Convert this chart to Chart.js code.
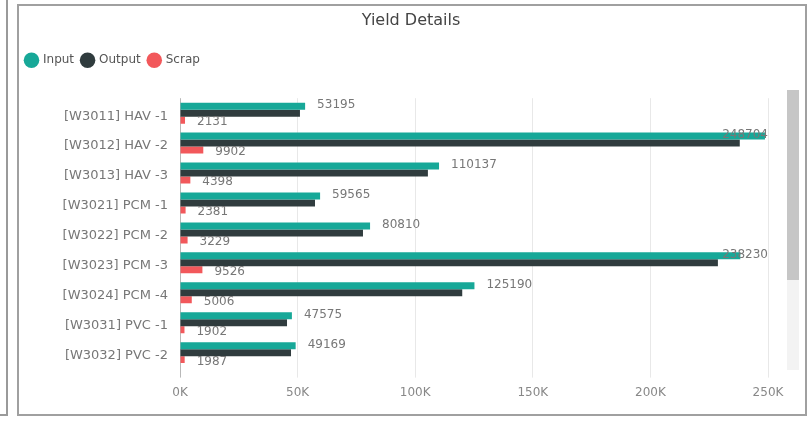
<!doctype html>
<html lang="en">
<head>
  <meta charset="UTF-8">
  <title>Yield Details</title>
  <script src="https://cdn.jsdelivr.net/npm/chart.js"></script>
  <style>
    body {
      margin: 0;
      background: #fff;
      width: 812px;
      height: 424px;
      position: relative;
      overflow: hidden;
    }

    #left_panel {
      position: absolute;
      left: 0;
      top: -4px;
      width: 6px;
      height: 418px;
      border-right: 2px solid #9a9a9a;
      border-bottom: 2px solid #9a9a9a;
    }

    #frame {
      position: absolute;
      left: 17px;
      top: 4px;
      width: 786px;
      height: 408px;
      border: 2px solid #a0a0a0;
      z-index: 2;
      pointer-events: none;
    }

    #chart_01 {
      position: absolute;
      left: 18px;
      top: 5px;
    }

    #track {
      position: absolute;
      left: 787px;
      top: 90px;
      width: 12px;
      height: 280px;
      background: #f3f3f3;
    }

    #thumb {
      position: absolute;
      left: 787px;
      top: 90px;
      width: 12px;
      height: 190px;
      background: #c6c6c6;
    }
  </style>
</head>
<body>
  <div id="left_panel"></div>
  <canvas id="chart_01" width="786" height="413"></canvas>
  <div id="track"></div>
  <div id="thumb"></div>
  <div id="frame"></div>
  <script type="application/javascript">
    const categories = [
      '[W3011] HAV -1', '[W3012] HAV -2', '[W3013] HAV -3',
      '[W3021] PCM -1', '[W3022] PCM -2', '[W3023] PCM -3',
      '[W3024] PCM -4', '[W3031] PVC -1', '[W3032] PVC -2'
    ]
    const input_vals = [53195, 248704, 110137, 59565, 80810, 238230, 125190, 47575, 49169]
    const output_vals = [51000, 238000, 105400, 57400, 77800, 228700, 120000, 45500, 47200]
    const scrap_vals = [2131, 9902, 4398, 2381, 3229, 9526, 5006, 1902, 1987]
    const x_ticks = [0, 50000, 100000, 150000, 200000, 250000]

    const font_family = '"DejaVu Sans", sans-serif'

    // extra space under the legend so the plot starts lower
    const legend_gap = {
      id: 'legend_gap',
      beforeLayout(chart) {
        const lg = chart.legend
        if (!lg || lg._gap_patched) return
        const fit = lg.fit
        lg.fit = function () {
          fit.call(this)
          this.height += 22
        }
        lg._gap_patched = true
      }
    }

    // value labels for Input and Scrap
    const bar_labels = {
      id: 'bar_labels',
      afterDatasetsDraw(chart) {
        const {ctx, chartArea} = chart
        ctx.save()
        ctx.font = `12px ${font_family}`
        ctx.fillStyle = '#777'
        ctx.textBaseline = 'middle'
        ctx.textAlign = 'left'
        ;[0, 2].forEach(di => {
          const meta = chart.getDatasetMeta(di)
          const vals = chart.data.datasets[di].data
          meta.data.forEach((bar, i) => {
            const txt = String(vals[i])
            const w = ctx.measureText(txt).width
            const x = Math.min(bar.x + 12, chartArea.right - w)
            ctx.fillText(txt, x, bar.y + (di === 0 ? -1 : 2))
          })
        })
        ctx.restore()
      }
    }

    const config = {
      type: 'bar',
      data: {
        labels: categories,
        datasets: [{
          label: 'Input',
          data: input_vals,
          backgroundColor: '#17a898'
        }, {
          label: 'Output',
          data: output_vals,
          backgroundColor: '#303c3e'
        }, {
          label: 'Scrap',
          data: scrap_vals,
          backgroundColor: '#f2585b'
        }]
      },
      options: {
        indexAxis: 'y',
        responsive: false,
        animation: false,
        categoryPercentage: 0.7,
        barPercentage: 1,
        layout: {
          padding: {top: 0, right: 0, bottom: 10, left: 0}
        },
        plugins: {
          tooltip: {enabled: false},
          title: {
            display: true,
            text: 'Yield Details',
            color: '#444',
            font: {family: font_family, size: 16, weight: 'normal'},
            padding: {top: 6, bottom: 16}
          },
          legend: {
            position: 'top',
            align: 'start',
            labels: {
              usePointStyle: true,
              pointStyle: 'circle',
              boxWidth: 11,
              boxHeight: 11,
              padding: 8,
              color: '#555',
              font: {family: font_family, size: 12}
            }
          }
        },
        scales: {
          x: {
            min: 0,
            max: 250000,
            afterBuildTicks: scale => {
              scale.ticks = x_ticks.map(v => ({value: v}))
            },
            afterFit: scale => {
              scale.paddingRight = 36
            },
            border: {display: false},
            grid: {
              color: c => c.tick && c.tick.value === 0 ? '#b8b8b8' : '#e8e8e8',
              tickLength: 10
            },
            ticks: {
              padding: 8,
              color: '#888',
              font: {family: font_family, size: 12},
              callback: v => (v / 1000) + 'K'
            }
          },
          y: {
            afterFit: scale => {
              scale.width = 162
            },
            border: {display: false},
            grid: {display: false, drawTicks: false},
            ticks: {
              padding: 12,
              labelOffset: 3,
              color: '#777',
              font: {family: font_family, size: 13}
            }
          }
        }
      },
      plugins: [legend_gap, bar_labels]
    }

    const myChart = new Chart(
      document.getElementById('chart_01'),
      config
    )
  </script>
</body>
</html>
